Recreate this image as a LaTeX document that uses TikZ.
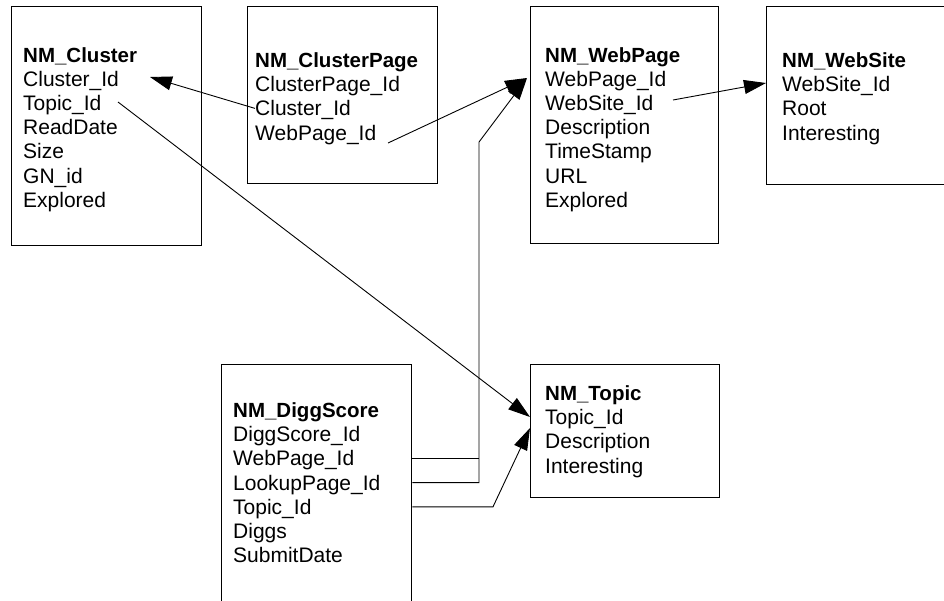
\documentclass[tikz,border=0pt]{standalone}
\usepackage{fontspec}
\setmainfont{Liberation Sans}
\usetikzlibrary{arrows.meta}

\begin{document}
\begin{tikzpicture}[
  x=1pt, y=-1pt,
  entity/.style={draw, line width=1.3pt, anchor=north west, inner sep=0pt},
  title/.style={anchor=base west, inner sep=0pt, text height=15pt, text depth=0pt, font=\fontsize{20.5}{24}\selectfont\bfseries},
  field/.style={anchor=base west, inner sep=0pt, text height=15pt, text depth=0pt, font=\fontsize{21}{24}\selectfont},
  link/.style={line width=0.9pt},
  fk/.style={link, -{Triangle[length=22pt, width=14pt]}}
]
\path[use as bounding box, clip] (0,0) rectangle (944,600);

% NM_Cluster
\node[entity, minimum width=190pt, minimum height=239pt] (cluster) at (11,6) {};
\node[title] (cl-0) at (23,62) {NM\_Cluster};
\foreach \f [count=\i] in {Cluster\_Id, Topic\_Id, ReadDate, Size, GN\_id, Explored}
  \node[field] (cl-\i) at (23,{62+24.2*\i}) {\f};

% NM_ClusterPage
\node[entity, minimum width=190pt, minimum height=177pt] (clusterpage) at (247,6) {};
\node[title] (cp-0) at (255,67.5) {NM\_ClusterPage};
\foreach \f [count=\i] in {ClusterPage\_Id, Cluster\_Id, WebPage\_Id}
  \node[field] (cp-\i) at (255,{67.5+24.2*\i}) {\f};

% NM_WebPage
\node[entity, minimum width=188pt, minimum height=237pt] (webpage) at (530,6) {};
\node[title] (wp-0) at (545,62) {NM\_WebPage};
\foreach \f [count=\i] in {WebPage\_Id, WebSite\_Id, Description, TimeStamp, URL, Explored}
  \node[field] (wp-\i) at (545,{62+24.2*\i}) {\f};

% NM_WebSite
\node[entity, minimum width=200pt, minimum height=178pt] (website) at (766,6) {};
\node[title] (ws-0) at (782,67.5) {NM\_WebSite};
\foreach \f [count=\i] in {WebSite\_Id, Root, Interesting}
  \node[field] (ws-\i) at (782,{67.5+24.2*\i}) {\f};

% NM_DiggScore
\node[entity, minimum width=190pt, minimum height=250pt] (diggscore) at (221,364) {};
\node[title] (ds-0) at (233,417.5) {NM\_DiggScore};
\foreach \f [count=\i] in {DiggScore\_Id, WebPage\_Id, LookupPage\_Id, Topic\_Id, Diggs, SubmitDate}
  \node[field] (ds-\i) at (233,{417.5+24.2*\i}) {\f};

% NM_Topic
\node[entity, minimum width=189pt, minimum height=133pt] (topic) at (530,364) {};
\node[title] (tp-0) at (545,400.5) {NM\_Topic};
\foreach \f [count=\i] in {Topic\_Id, Description, Interesting}
  \node[field] (tp-\i) at (545,{400.5+24.2*\i}) {\f};

% link ends
\coordinate (cl-in) at (150,77);
\coordinate (cl-out) at (118,102);
\coordinate (cp-out) at (388,143);
\coordinate (wp-in) at (527,78);
\coordinate (wp-out) at (673,100);
\coordinate (ws-in) at (766,83);
\coordinate (tp-in1) at (530,417);
\coordinate (tp-in2) at (530,428);
\coordinate (ds-bend) at (479,142);
\coordinate (ds-knee) at (493,507);

% links
\draw[fk] (cp-2.west) -- (cl-in);
\draw[fk] (cp-out) -- (wp-in);
\draw[fk] (cl-out) -- (tp-in1);
\draw[fk] (wp-out) -- (ws-in);
\draw[link] (ds-2 -| diggscore.east) -- (ds-2 -| ds-bend);
\draw[fk] (ds-3 -| diggscore.east) -| (ds-bend) -- (wp-in);
\draw[fk] (ds-4 -| diggscore.east) -- (ds-4 -| ds-knee) -- (tp-in2);

\end{tikzpicture}
\end{document}
